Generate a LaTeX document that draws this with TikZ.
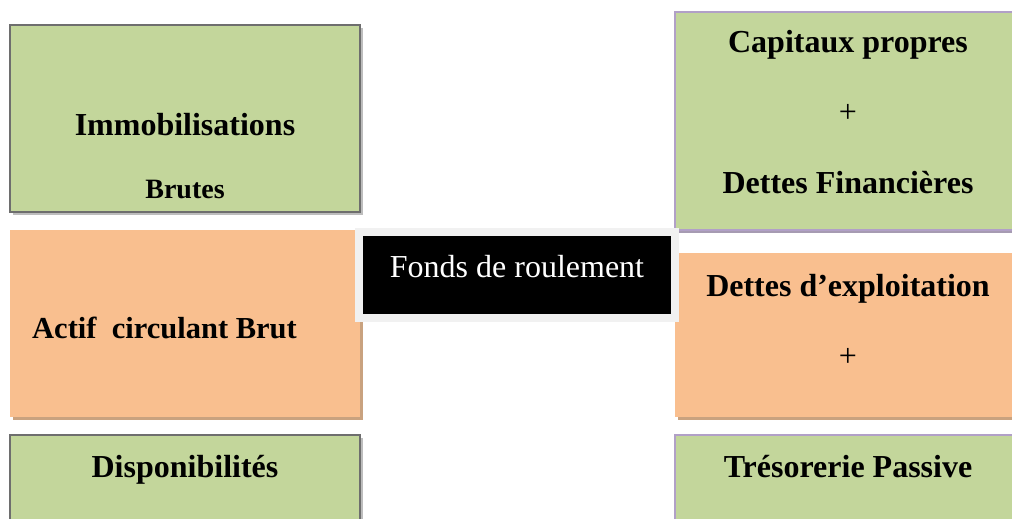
\documentclass[tikz,border=0pt]{standalone}
\usepackage{xcolor}
\usepackage{fontspec}
\setmainfont{Liberation Serif}
\usepackage{tikz}
\usetikzlibrary{shadows}

\definecolor{vert}{HTML}{C3D69B}
\definecolor{orange}{HTML}{F9BF8F}
\definecolor{mauve}{HTML}{B1A0C7}
\definecolor{grisbord}{HTML}{6E6E6E}
\definecolor{ombregris}{HTML}{BDBDBD}
\definecolor{ombrebrun}{HTML}{C9A27F}
\definecolor{ombremauve}{HTML}{A69BB2}
\definecolor{cadre}{HTML}{F1F1F1}

\begin{document}
\begin{tikzpicture}[x=1pt,y=-1pt,
    txt/.style={inner sep=0pt,font=\fontsize{32}{38}\selectfont\bfseries},
    plus/.style={inner sep=0pt,font=\fontsize{32}{38}\selectfont}]
        \clip (0,0) rectangle (1012,519);
        % actif
        \node at (185,118.5) [rectangle, minimum width = 350pt, minimum height = 187pt, fill=vert, draw=grisbord, line width=2pt, drop shadow={shadow xshift=3pt, shadow yshift=-3pt, fill=ombregris, opacity=1}] (a100) {};
        \node at (185,323.5) [rectangle, minimum width = 350pt, minimum height = 187pt, fill=orange, drop shadow={shadow xshift=3pt, shadow yshift=-3pt, fill=ombrebrun, opacity=1}] (a200) {};
        \node at (185,480) [rectangle, minimum width = 350pt, minimum height = 90pt, fill=vert, draw=grisbord, line width=2pt, drop shadow={shadow xshift=3pt, shadow yshift=-3pt, fill=ombregris, opacity=1}] (a300) {};
        % passif
        \node at (848,121) [rectangle, minimum width = 346pt, minimum height = 218pt, fill=vert, draw=mauve, line width=2pt, drop shadow={shadow xshift=2pt, shadow yshift=-3pt, fill=ombremauve, opacity=1}] (p100) {};
        \node at (848,335) [rectangle, minimum width = 346pt, minimum height = 164pt, fill=orange, drop shadow={shadow xshift=3pt, shadow yshift=-3pt, fill=ombrebrun, opacity=1}] (p200) {};
        \node at (848,480) [rectangle, minimum width = 346pt, minimum height = 90pt, fill=vert, draw=mauve, line width=2pt] (p300) {};
        % fonds de roulement
        \node at (517,274.5) [rectangle, minimum width = 316pt, minimum height = 86pt, fill=black, draw=cadre, line width=8pt, drop shadow={shadow xshift=3pt, shadow yshift=-3pt, fill=ombregris, opacity=1}] (fdr) {};
        % textes
        \node at (185,125) [txt] (a100t) {Immobilisations};
        \node at (185,190) [txt, font=\fontsize{28}{34}\selectfont\bfseries] (a100b) {Brutes};
        \node at (32,328) [txt, anchor=west, font=\fontsize{30.5}{36}\selectfont\bfseries] (a200t) {Actif\ \ circulant Brut};
        \node at (185,470) [txt] (a300t) {Disponibilités};
        \node at (848,45) [txt] (p100t) {Capitaux propres};
        \node at (848,113) [plus] (p100p) {+};
        \node at (848,183) [txt] (p100b) {Dettes Financières};
        \node at (848,289) [txt] (p200t) {Dettes d’exploitation};
        \node at (848,357) [plus] (p200p) {+};
        \node at (848,467) [txt] (p300t) {Trésorerie Passive};
        \node at (517,267) [plus, text=white] (fdrt) {Fonds de roulement};
    \end{tikzpicture}
\end{document}
